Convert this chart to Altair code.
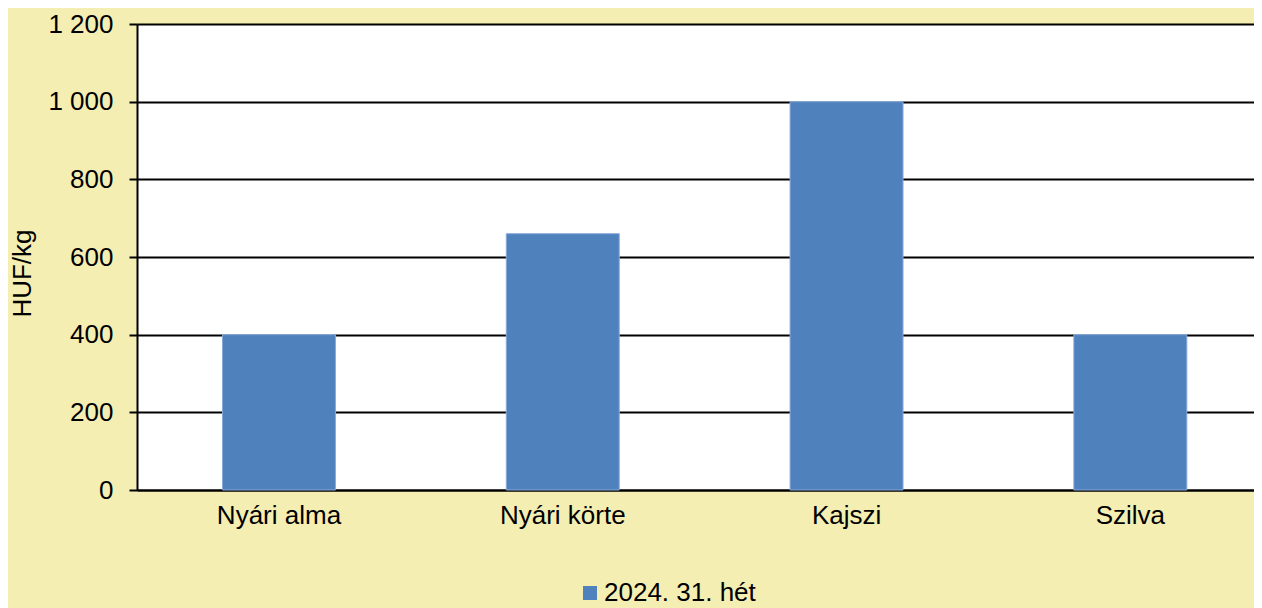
import altair as alt
import pandas as pd

categories = ["Nyári alma", "Nyári körte", "Kajszi", "Szilva"]
values = [400, 660, 1000, 400]
series_name = "2024. 31. hét"
y_ticks = [0, 200, 400, 600, 800, 1000, 1200]

df = pd.DataFrame({"kategoria": categories, "ertek": values, "sorozat": [series_name] * len(categories)})

FONT = "Liberation Sans"
BG = "#F4EEB3"
BAR = "#4F81BD"

chart = alt.Chart(df).mark_bar(stroke="#88AADA", strokeWidth=1).encode(
    x=alt.X(
        "kategoria:N",
        sort=categories,
        title=None,
        scale=alt.Scale(paddingInner=0.602, paddingOuter=0.269, align=0.56),
        axis=alt.Axis(
            labelAngle=0,
            ticks=False,
            tickSize=0,
            labelPadding=12,
            labelFontSize=26,
            labelFont=FONT,
            labelColor="black",
            domainColor="black",
            domainWidth=2,
            grid=False,
        ),
    ),
    y=alt.Y(
        "ertek:Q",
        title="HUF/kg",
        scale=alt.Scale(domain=[0, 1200], nice=False),
        axis=alt.Axis(
            values=y_ticks,
            labelExpr="replace(format(datum.value, ','), ',', ' ')",
            labelFontSize=26,
            labelFont=FONT,
            labelColor="black",
            labelPadding=16,
            tickSize=8,
            tickColor="black",
            tickWidth=2,
            domainColor="black",
            domainWidth=2,
            grid=True,
            gridColor="black",
            gridWidth=2,
            titleFont=FONT,
            titleFontSize=26,
            titleFontWeight="normal",
            titleColor="black",
            titleAngle=-90,
            titleAlign="center",
            titleBaseline="middle",
            titleX=-115,
            titleY=249,
        ),
    ),
    color=alt.Color(
        "sorozat:N",
        scale=alt.Scale(range=[BAR]),
        legend=alt.Legend(
            title=None,
            orient="none",
            legendX=440,
            legendY=556,
            direction="horizontal",
            symbolType="square",
            symbolSize=196,
            symbolStrokeWidth=0,
            labelFontSize=26,
            labelFont=FONT,
            labelColor="black",
            labelOffset=1,
            padding=0,
        ),
    ),
).properties(
    width=1117,
    height=466,
    background=BG,
    padding={"left": 129, "top": 16, "right": 0, "bottom": 118},
    autosize=alt.AutoSizeParams(type="none"),
).configure_view(
    fill="white",
    strokeOpacity=0,
)

chart.save("out.html", embed_options={"renderer": "svg", "actions": False})
